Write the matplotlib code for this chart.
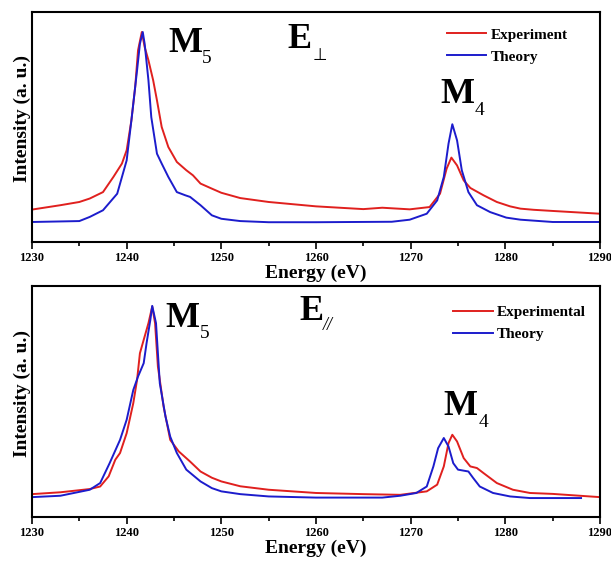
import numpy as np
from matplotlib import pyplot as plt

plt.rcParams['font.family'] = ['Liberation Serif', 'DejaVu Serif']
plt.rcParams['font.weight'] = 'bold'

# top panel (E perpendicular)
top_exp_x = [1230, 1233, 1235, 1236.1, 1237.5, 1238.6, 1239.5, 1240.0, 1240.5, 1240.9, 1241.2,
             1241.6, 1241.9, 1242.3, 1242.8, 1243.2, 1243.7, 1244.4, 1245.3, 1246.3, 1247.0,
             1247.8, 1249, 1250, 1252, 1255, 1260, 1265, 1267, 1269.9, 1272.0, 1273.1, 1273.8,
             1274.3, 1274.9, 1275.6, 1276.3, 1277.7, 1279.1, 1280.5, 1281.6, 1283, 1285, 1290]
top_exp_y = [0.141, 0.160, 0.174, 0.189, 0.217, 0.283, 0.341, 0.399, 0.529, 0.674, 0.833,
             0.913, 0.848, 0.790, 0.703, 0.616, 0.500, 0.413, 0.348, 0.312, 0.290,
             0.254, 0.232, 0.214, 0.191, 0.174, 0.155, 0.143, 0.149, 0.142, 0.152, 0.210, 0.319,
             0.367, 0.333, 0.268, 0.235, 0.203, 0.174, 0.155, 0.145, 0.140, 0.135, 0.123]
top_th_x = [1230, 1235, 1236.1, 1237.5, 1239.0, 1240.0, 1240.5, 1241.1, 1241.4, 1241.7, 1241.9,
            1242.3, 1242.6, 1243.2, 1243.7, 1244.4, 1245.3, 1246.2, 1246.7, 1247.8, 1249, 1250,
            1252, 1255, 1260, 1268, 1269.9, 1271.7, 1272.8, 1273.5, 1274.0, 1274.4, 1274.9,
            1275.4, 1276.1, 1277.0, 1278.4, 1280.1, 1281.6, 1285, 1290]
top_th_y = [0.087, 0.091, 0.109, 0.138, 0.210, 0.355, 0.529, 0.747, 0.862, 0.913, 0.862,
            0.703, 0.543, 0.384, 0.341, 0.283, 0.217, 0.203, 0.196, 0.160, 0.116, 0.101,
            0.091, 0.086, 0.086, 0.088, 0.097, 0.123, 0.181, 0.283, 0.428, 0.512, 0.442,
            0.312, 0.217, 0.160, 0.130, 0.106, 0.097, 0.087, 0.087]

# bottom panel (E parallel)
bot_exp_x = [1230, 1233, 1236.1, 1237.2, 1238.1, 1238.8, 1239.3, 1240.0, 1240.7, 1241.1, 1241.4,
             1241.8, 1242.3, 1242.7, 1243.0, 1243.3, 1243.9, 1244.6, 1245.5, 1246.7, 1247.8,
             1249, 1250, 1252, 1255, 1260, 1265, 1268.9, 1271.7, 1272.8, 1273.5, 1274.0, 1274.4,
             1274.9, 1275.6, 1276.3, 1277.0, 1277.7, 1279.1, 1280.8, 1282.6, 1285, 1290]
bot_exp_y = [0.099, 0.107, 0.121, 0.132, 0.176, 0.248, 0.277, 0.363, 0.493, 0.594, 0.709,
             0.767, 0.839, 0.911, 0.839, 0.651, 0.478, 0.334, 0.284, 0.240, 0.197,
             0.170, 0.154, 0.133, 0.118, 0.104, 0.099, 0.096, 0.111, 0.140, 0.219, 0.320, 0.356,
             0.327, 0.255, 0.219, 0.212, 0.190, 0.147, 0.118, 0.104, 0.100, 0.086]
bot_th_x = [1230, 1233, 1236.1, 1237.2, 1238.2, 1239.3, 1240.0, 1240.7, 1241.2, 1241.8, 1242.1,
            1242.5, 1242.7, 1243.1, 1243.5, 1244.1, 1244.6, 1245.3, 1246.3, 1247.8, 1249, 1250,
            1252, 1255, 1260, 1267, 1268.9, 1270.6, 1271.7, 1272.4, 1272.9, 1273.5, 1274.0,
            1274.5, 1275.0, 1276.1, 1276.6, 1277.3, 1278.7, 1280.5, 1282.6, 1288]
bot_th_y = [0.086, 0.092, 0.118, 0.147, 0.233, 0.334, 0.421, 0.550, 0.608, 0.666, 0.752,
            0.853, 0.914, 0.839, 0.579, 0.435, 0.348, 0.277, 0.205, 0.154, 0.125, 0.111,
            0.099, 0.089, 0.084, 0.084, 0.092, 0.104, 0.132, 0.219, 0.298, 0.342, 0.305,
            0.233, 0.205, 0.197, 0.169, 0.132, 0.104, 0.089, 0.082, 0.082]

red = '#e0201e'
blue = '#1c1ccc'

fig = plt.figure(figsize=(6.11, 5.64), dpi=100)
ax1 = fig.add_axes([32/611, 1-242/564, 568/611, 230/564])
ax2 = fig.add_axes([32/611, 1-517/564, 568/611, 231/564])

# (axes, data..., legend label, E subscript, positions of M5 / 5 / E / sub / M4 / 4, legend anchor)
panels = [
    (ax1, top_exp_x, top_exp_y, top_th_x, top_th_y, 'Experiment', '\u22a5',
     (1244.4, 0.826), (1247.9, 0.777), (1257.0, 0.842), (1259.6, 0.79),
     (1273.1, 0.603), (1276.8, 0.551), (0.968, 0.99)),
    (ax2, bot_exp_x, bot_exp_y, bot_th_x, bot_th_y, 'Experimental', '//',
     (1244.1, 0.824), (1247.7, 0.775), (1258.2, 0.853), (1260.7, 0.809),
     (1273.5, 0.442), (1277.2, 0.39), (1.0, 0.975)),
]

for ax, ex, ey, tx, ty, lab, esub, m5, s5, epos, spos, m4, s4, anchor in panels:
    ax.plot(ex, ey, color=red, lw=1.4, label=lab)
    ax.plot(tx, ty, color=blue, lw=1.4, label='Theory')
    ax.set_xlim(1230, 1290)
    ax.set_ylim(0, 1)
    ax.set_yticks([])
    ax.set_xticks(np.arange(1230, 1291, 10))
    ax.set_xticks(np.arange(1235, 1290, 10), minor=True)
    ax.tick_params(axis='x', which='major', length=5, width=1.2, labelsize=9, pad=2)
    ax.tick_params(axis='x', which='minor', length=3, width=1.2)
    for s in ax.spines.values():
        s.set_linewidth(1.5)
    ax.set_xlabel('Energy (eV)', fontsize=14, fontweight='bold', labelpad=1)
    ax.set_ylabel('Intensity (a. u.)', fontsize=14, fontweight='bold')
    ax.yaxis.set_label_coords(-0.002, 0.535)

    ax.text(m5[0], m5[1], 'M', fontsize=26, ha='left', va='baseline')
    ax.text(s5[0], s5[1], '5', fontsize=14, fontweight='normal', ha='left', va='baseline')
    ax.text(epos[0], epos[1], 'E', fontsize=26, ha='left', va='baseline')
    if esub == '//':
        ax.text(spos[0], spos[1], esub, fontsize=13, fontweight='normal', style='italic',
                ha='left', va='baseline')
    else:
        ax.text(spos[0], spos[1], esub, fontsize=12, fontweight='normal',
                family='DejaVu Sans', ha='left', va='baseline')
    ax.text(m4[0], m4[1], 'M', fontsize=26, ha='left', va='baseline')
    ax.text(s4[0], s4[1], '4', fontsize=14, fontweight='normal', ha='left', va='baseline')

    leg = ax.legend(loc='upper right', frameon=False, fontsize=11, handlelength=2.6,
                    handletextpad=0.3, labelspacing=0.55, bbox_to_anchor=anchor)
    for t in leg.get_texts():
        t.set_fontweight('bold')

fig.savefig('out.png', dpi=100)
